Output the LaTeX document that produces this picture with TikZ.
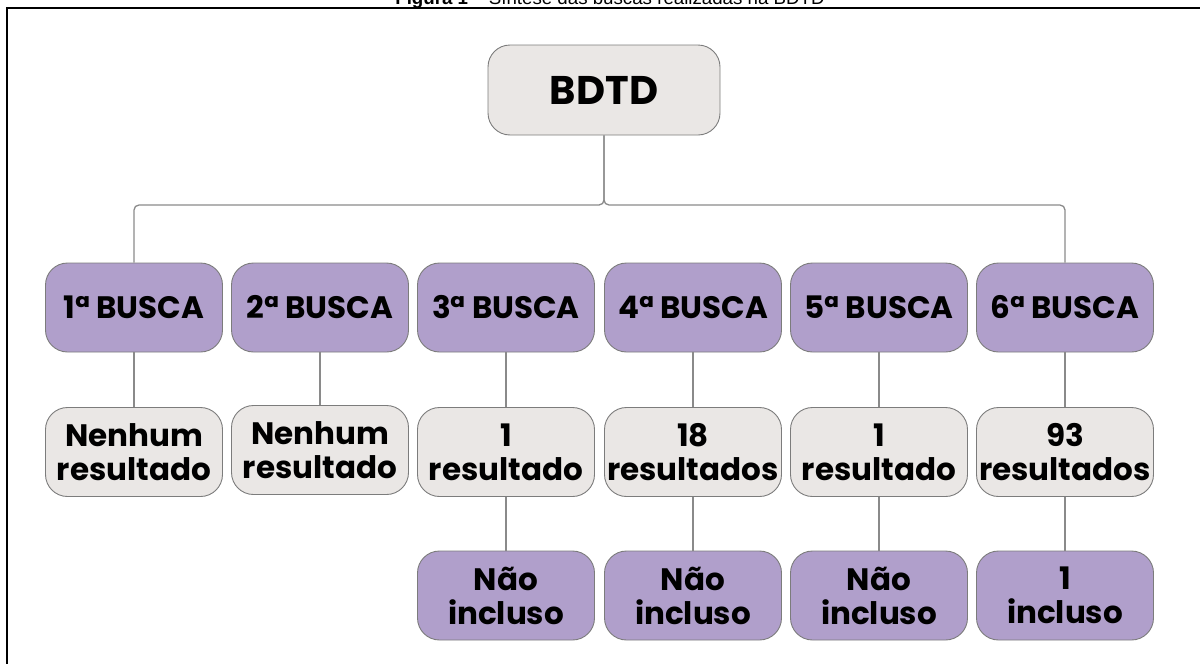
\documentclass[tikz,border=0pt]{standalone}
\usepackage{fontspec}
\setmainfont{Poppins}
\newfontfamily\titlefont{Liberation Sans}
\definecolor{lav}{HTML}{B09FCB}
\definecolor{lgray}{HTML}{EAE7E5}
\definecolor{edge}{HTML}{7C7C7C}
\definecolor{conncol}{HTML}{8A8A8A}
\begin{document}
\begin{tikzpicture}[x=1pt,y=-1pt,
  box/.style={draw=edge, line width=0.9pt, rounded corners=22pt, minimum width=177pt, minimum height=89pt, inner sep=0pt, align=center, font=\bfseries\fontsize{31}{34}\selectfont, text=black},
  purp/.style={box, fill=lav},
  gray/.style={box, fill=lgray},
  conn/.style={draw=conncol, line width=1.3pt}]
\useasboundingbox (0,0) rectangle (1200,664);
\begin{scope}
\clip (0,0) rectangle (1200,664);
\node[anchor=base, inner sep=0pt, font=\titlefont\fontsize{18.7}{20}\selectfont] (title) at (610,4) {\textbf{Figura 1} – Síntese das buscas realizadas na BDTD};
\end{scope}
\draw[line width=2pt, black] (7,664) -- (7,8) -- (1200,8);

\node[gray, minimum width=232pt, minimum height=90pt, font=\bfseries\fontsize{40}{42}\selectfont] (bdtd) at (604,90) {BDTD};

\node[purp] (b1) at (134,307.5) {1ª BUSCA};
\node[purp] (b2) at (320,307.5) {2ª BUSCA};
\node[purp] (b3) at (506,307.5) {3ª BUSCA};
\node[purp] (b4) at (693,307.5) {4ª BUSCA};
\node[purp] (b5) at (879,307.5) {5ª BUSCA};
\node[purp] (b6) at (1065,307.5) {6ª BUSCA};

\node[gray] (r1) at (134,452) {Nenhum\\resultado};
\node[gray] (r2) at (320,450) {Nenhum\\resultado};
\node[gray] (r3) at (506,452) {1\\resultado};
\node[gray] (r4) at (693,452) {18\\resultados};
\node[gray] (r5) at (879,452) {1\\resultado};
\node[gray] (r6) at (1065,452) {93\\resultados};

\node[purp] (i3) at (506,595.5) {Não\\incluso};
\node[purp] (i4) at (693,595.5) {Não\\incluso};
\node[purp] (i5) at (879,595.5) {Não\\incluso};
\node[purp] (i6) at (1065,595.5) {1\\incluso};

\coordinate (j) at (604,205);
\draw[conn, rounded corners=5pt] (bdtd.south) |- (j -| b1.north) -- (b1.north);
\draw[conn, rounded corners=5pt] (bdtd.south) |- (j -| b6.north) -- (b6.north);
\foreach \n in {1,...,6}{\draw[conn] (b\n.south) -- (r\n.north);}
\foreach \n in {3,...,6}{\draw[conn] (r\n.south) -- (i\n.north);}
\end{tikzpicture}
\end{document}
